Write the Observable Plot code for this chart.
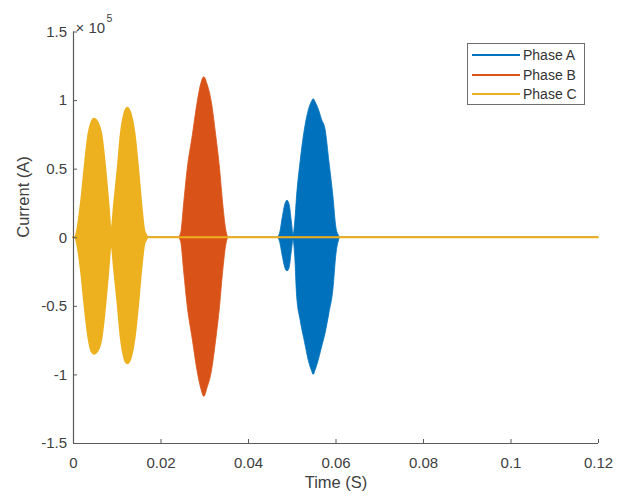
<!DOCTYPE html>
<html>
<head>
<meta charset="utf-8">
<script src="https://cdn.jsdelivr.net/npm/d3@7"></script>
<script src="https://cdn.jsdelivr.net/npm/@observablehq/plot@0.6"></script>
<style>
  html, body { margin: 0; padding: 0; background: #fff; }
  #wrap { position: relative; width: 627px; height: 499px; font-family: "Liberation Sans", Arial, sans-serif; }
  #legend { position: absolute; left: 467px; top: 43px; width: 118px; height: 62px; box-sizing: border-box;
            border: 1px solid #6e6e6e; background: #fff; }
  .row { position: absolute; left: 0; height: 18px; width: 100%; }
  .row .sw { position: absolute; left: 4px; top: 8px; width: 48px; height: 0; border-top: 2px solid; }
  .row .lb { position: absolute; left: 55px; top: 0; font-size: 14px; line-height: 18px; color: #333; }
</style>
</head>
<body>
<div id="wrap"></div>
<script>
// ---- data (current in units of 1e5 A) ----
const phaseNames = ["Phase A", "Phase B", "Phase C"];
const phaseColors = ["#0072BD", "#D95319", "#EDB120"];

const timeA  = [0, 0.0466, 0.0472, 0.0478, 0.0484, 0.0489, 0.0494, 0.0499, 0.0503, 0.0507, 0.0511, 0.0519, 0.0529, 0.0538, 0.0545, 0.0549, 0.0553, 0.0560, 0.0568, 0.0576, 0.0585, 0.0594, 0.0601, 0.0606, 0.0610, 0.12];
const upperA = [0, 0, 0.03, 0.14, 0.24, 0.27, 0.24, 0.12, 0.02, 0.12, 0.30, 0.55, 0.79, 0.93, 0.99, 1.01, 0.99, 0.94, 0.86, 0.79, 0.55, 0.30, 0.07, 0.02, 0, 0];
const lowerA = [0, 0, -0.03, -0.13, -0.22, -0.245, -0.22, -0.10, -0.02, -0.15, -0.42, -0.60, -0.76, -0.90, -0.97, -1.00, -0.97, -0.90, -0.80, -0.70, -0.55, -0.38, -0.12, -0.03, 0, 0];

const timeB  = [0, 0.0240, 0.0246, 0.0253, 0.0261, 0.0273, 0.0284, 0.0292, 0.0299, 0.0306, 0.0316, 0.0326, 0.0335, 0.0342, 0.0350, 0.0355, 0.12];
const upperB = [0, 0, 0.03, 0.25, 0.50, 0.75, 0.99, 1.12, 1.17, 1.12, 0.99, 0.75, 0.50, 0.25, 0.04, 0, 0];
const lowerB = [0, 0, -0.03, -0.25, -0.50, -0.75, -0.98, -1.10, -1.16, -1.10, -0.98, -0.75, -0.50, -0.25, -0.04, 0, 0];

const timeC  = [0, 0.0005, 0.0008, 0.0018, 0.0026, 0.0035, 0.0042, 0.0048, 0.0056, 0.0065, 0.0074, 0.0081, 0.0087, 0.0094, 0.0102, 0.0109, 0.0117, 0.0124, 0.0132, 0.0141, 0.0149, 0.0156, 0.0163, 0.0167, 0.0171, 0.12];
const upperC = [0, 0, 0.03, 0.25, 0.50, 0.75, 0.84, 0.865, 0.84, 0.75, 0.50, 0.25, 0.04, 0.25, 0.50, 0.75, 0.90, 0.945, 0.90, 0.75, 0.50, 0.25, 0.05, 0.02, 0, 0];
const lowerC = [0, 0, -0.03, -0.24, -0.49, -0.73, -0.83, -0.85, -0.83, -0.74, -0.49, -0.24, -0.04, -0.24, -0.49, -0.73, -0.88, -0.92, -0.88, -0.73, -0.49, -0.24, -0.05, -0.02, 0, 0];

const xTicks = [0, 0.02, 0.04, 0.06, 0.08, 0.1, 0.12];
const xTickLabels = ["0", "0.02", "0.04", "0.06", "0.08", "0.1", "0.12"];
const yTicks = [-1.5, -1, -0.5, 0, 0.5, 1, 1.5];
const yTickLabels = ["-1.5", "-1", "-0.5", "0", "0.5", "1", "1.5"];
const xLabel = "Time (S)";
const yLabel = "Current (A)";
const exponentBase = "× 10";
const exponentPower = "5";

// ---- build ----
const series = [
  [timeA, upperA, lowerA],
  [timeB, upperB, lowerB],
  [timeC, upperC, lowerC]
];
const rows = series.map(([t, hi, lo], k) => t.map((ti, i) => ({t: ti, hi: hi[i], lo: lo[i], phase: phaseNames[k]})));
const strokeWidths = [0.8, 0.8, 1.8];

const xDomain = [xTicks[0], xTicks[xTicks.length - 1]];
const yDomain = [yTicks[0], yTicks[yTicks.length - 1]];

const axisColor = "#5a5a5a";
const textColor = "#404040";

const chart = Plot.plot({
  width: 627,
  height: 499,
  marginLeft: 73,
  marginRight: 29,
  marginTop: 31.5,
  marginBottom: 56,
  style: {fontFamily: "'Liberation Sans', Arial, sans-serif", color: textColor, background: "#fff", overflow: "visible"},
  x: {domain: xDomain},
  y: {domain: yDomain},
  marks: [
    ...rows.map((r, k) => Plot.areaY(r, {x: "t", y1: "lo", y2: "hi", fill: phaseColors[k], stroke: phaseColors[k], strokeWidth: strokeWidths[k], curve: "monotone-x"})),
    Plot.ruleX([xDomain[0]], {stroke: axisColor, strokeWidth: 1.2}),
    Plot.ruleY([yDomain[0]], {stroke: axisColor, strokeWidth: 1.2}),
    Plot.axisX({ticks: xTicks, tickFormat: d => xTickLabels[xTicks.indexOf(d)], tickSize: -4, tickPadding: 18, fontSize: 15, label: null, stroke: axisColor}),
    Plot.axisY({ticks: yTicks, tickFormat: d => yTickLabels[yTicks.indexOf(d)], tickSize: -4, tickPadding: 10.5, fontSize: 15, label: null, stroke: axisColor}),
    Plot.text([xLabel], {text: d => d, frameAnchor: "bottom", dy: 44, fontSize: 16.5, fill: textColor}),
    Plot.text([yLabel], {text: d => d, frameAnchor: "left", rotate: -90, dx: -50, fontSize: 16.5, fill: textColor}),
    Plot.text([exponentBase], {text: d => d, frameAnchor: "top-left", textAnchor: "start", dx: 2, dy: -10, fontSize: 15, fill: textColor}),
    Plot.text([exponentPower], {text: d => d, frameAnchor: "top-left", textAnchor: "start", dx: 33, dy: -17, fontSize: 10.5, fill: textColor})
  ]
});

const wrap = document.getElementById("wrap");
wrap.appendChild(chart);

const legend = document.createElement("div");
legend.id = "legend";
phaseNames.forEach((name, k) => {
  const row = document.createElement("div");
  row.className = "row";
  row.style.top = (2 + k * 19.5) + "px";
  const sw = document.createElement("div");
  sw.className = "sw";
  sw.style.borderTopColor = phaseColors[k];
  const lb = document.createElement("div");
  lb.className = "lb";
  lb.textContent = name;
  row.appendChild(sw);
  row.appendChild(lb);
  legend.appendChild(row);
});
wrap.appendChild(legend);
</script>
</body>
</html>
